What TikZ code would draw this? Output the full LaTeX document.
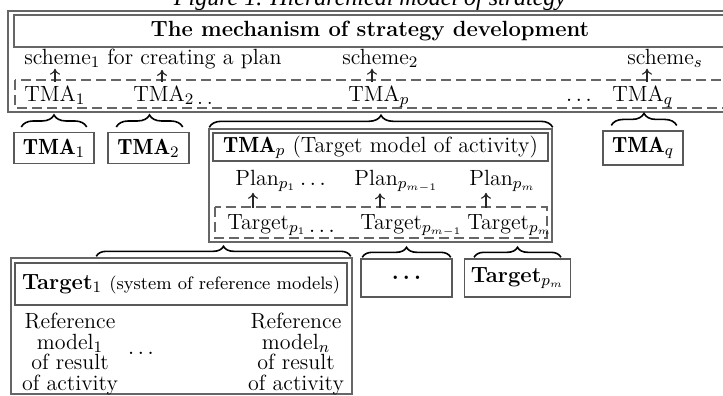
\documentclass[tikz,border=0pt]{standalone}
\usepackage{amsmath}
\usepackage{amssymb}
\usepackage{fontspec}
\newfontfamily\capfont{Liberation Serif}
\usetikzlibrary{decorations.pathreplacing,arrows.meta}

\newcommand{\dfont}{\fontsize{11}{13}\selectfont}

\tikzset{
  frame/.style={draw=black!60, line width=0.7pt},
  dashframe/.style={draw=black!60, line width=0.7pt, dash pattern=on 5pt off 2.5pt},
  boldbox/.style={draw=black!65, line width=0.7pt, inner sep=3pt, minimum height=15pt},
  lbl/.style={inner xsep=1pt, inner ysep=0.5pt},
  low/.style={inner xsep=1pt, inner ysep=1.5pt},
  link/.style={-{To[length=3pt,width=5pt]}, line width=0.55pt, black!85},
  upbrace/.style={decorate, decoration={brace, amplitude=6pt}, line width=0.8pt},
  lowbrace/.style={decorate, decoration={brace, amplitude=5pt}, line width=0.8pt}
}

\begin{document}
\begin{tikzpicture}[x=0.5pt, y=-0.5pt, font=\dfont]
\useasboundingbox (0,0) rectangle (723,396);
\clip (0,0) rectangle (723,396);

% caption, cut by the top edge
\node[font=\capfont\itshape\fontsize{12}{14}\selectfont, anchor=base, inner sep=0] (caption) at (370,5) {Figure 1. Hierarchical model of strategy};

% upper frame: the mechanism
\draw[frame] (8,11) rectangle (740,112);
\draw[frame] (14,15) rectangle (735,47);
\node[font=\dfont\bfseries] (mech) at (370,31) {The mechanism of strategy development};

% schemes
\node[lbl, anchor=base west] (sch1) at (22,64) {scheme$_1$};
\node[lbl, anchor=base west] (crplan) at (105,64) {for creating a plan};
\node[lbl, anchor=base west] (sch2) at (340,64) {scheme$_2$};
\node[lbl, anchor=base west] (schs) at (625,64) {scheme$_s$};

% row of TMA
\draw[dashframe] (15,80) rectangle (745,108);
\node[low, anchor=base west] (t1) at (22,101) {TMA$_1$};
\node[low, anchor=base west] (t2) at (131,101) {TMA$_2$};
\node[lbl, anchor=base west, inner xsep=0pt, yshift=-1.5pt] (t2dots) at (t2.base east) {.\,.};
\node[low, anchor=base west] (tp) at (346,101) {TMA$_p$};
\node[low, anchor=base] (tdots) at (579,101) {$\ldots$};
\node[low, anchor=base west] (tq) at (610,101) {TMA$_q$};

\draw[link] ([xshift=16.5pt]t1.north west) -- ([xshift=16.5pt]sch1.south west);
\draw[link] ([xshift=15.5pt]t2.north west) -- ([xshift=28.5pt]crplan.south west);
\draw[link] ([xshift=13pt]tp.north west) -- ([xshift=16pt]sch2.south west);
\draw[link] ([xshift=18.5pt]tq.north west) -- ([xshift=11pt]schs.south west);

% TMA boxes
\node[boldbox, minimum width=40pt] (b1) at (54,148) {$\mathbf{TMA}_1$};
\node[boldbox, minimum width=40.5pt] (b2) at (148.5,148) {$\mathbf{TMA}_2$};
\node[boldbox, minimum width=40pt] (bq) at (643,148) {$\mathbf{TMA}_q$};
\node[frame, minimum width=171.5pt, minimum height=56.5pt, inner sep=0] (pout) at (380.5,185.5) {};
\node[boldbox, minimum width=167.5pt, minimum height=14pt, inner sep=1pt] (ptitle) at (380.5,147) {$\mathbf{TMA}_p$ (Target model of activity)};

\draw[upbrace] ([xshift=4pt,yshift=2.5pt]b1.north west) -- ([xshift=-4pt,yshift=2.5pt]b1.north east);
\draw[upbrace] ([xshift=4.5pt,yshift=2.5pt]b2.north west) -- ([xshift=-3.5pt,yshift=2.5pt]b2.north east);
\draw[upbrace] ([xshift=0.5pt,yshift=0.5pt]pout.north west) -- ([yshift=0.5pt]pout.north east);
\draw[upbrace] ([xshift=4.5pt,yshift=2.5pt]bq.north west) -- ([xshift=-3.5pt,yshift=2.5pt]bq.north east);

% plans and targets inside TMA_p
\node[lbl, anchor=base west] (pl1) at (233,185) {Plan$_{p_1}$};
\node[lbl, anchor=base] (pldots) at (313,185) {$\ldots$};
\node[lbl, anchor=base west] (plm1) at (352,185) {Plan$_{p_{m-1}}$};
\node[lbl, anchor=base west] (plm) at (467,185) {Plan$_{p_m}$};

\draw[dashframe] (215,207) rectangle (547,238);
\node[low, anchor=base west, inner ysep=3pt] (tg1) at (225,229) {Target$_{p_1}$};
\node[lbl, anchor=base west, inner xsep=0pt, yshift=-1.5pt] (tg1dots) at (tg1.base east) {$\ldots$};
\node[low, anchor=base west, inner ysep=3pt] (tgm1) at (358,229) {Target$_{p_{m-1}}$};
\node[low, anchor=base west, inner ysep=3pt] (tgm) at (465,229) {Target$_{p_m}$};

\draw[link] ([xshift=14pt]tg1.north west) -- ([xshift=10pt]pl1.south west);
\draw[link] ([xshift=11pt]tgm1.north west) -- ([xshift=14pt]plm1.south west);
\draw[link] ([xshift=10.5pt]tgm.north west) -- ([xshift=9.5pt]plm.south west);

% targets
\node[frame, minimum width=170.5pt, minimum height=68pt, inner sep=0] (tgout) at (181.5,326) {};
\node[boldbox, minimum width=166pt, minimum height=21pt, inner sep=1pt] (tgtitle) at (181,284) {\textbf{Target}$_1$ {\fontsize{9}{11}\selectfont(system of reference models)}};
\node[align=center, inner sep=1pt, font=\fontsize{11}{10.2}\selectfont] (ref1) at (70,354) {Reference\\model$_1$\\of result\\of activity};
\node[inner sep=1pt] (refdots) at (141,353) {$\ldots$};
\node[align=center, inner sep=1pt, font=\fontsize{11}{10.2}\selectfont] (refn) at (296,354) {Reference\\model$_n$\\of result\\of activity};
\node[boldbox, minimum width=45.5pt, minimum height=19pt] (dbox) at (406.5,278) {$\boldsymbol{\ldots}$};
\node[boldbox, minimum width=52.5pt, minimum height=19pt] (tpm) at (517.5,278) {\textbf{Target}$_{p_m}$};

\draw[lowbrace] ([xshift=43pt,yshift=0.5pt]tgout.north west) -- ([xshift=-1pt,yshift=0.5pt]tgout.north east);
\draw[lowbrace] ([xshift=1pt,yshift=0.5pt]dbox.north west) -- ([xshift=-1pt,yshift=0.5pt]dbox.north east);
\draw[lowbrace] ([xshift=5pt,yshift=0.5pt]tpm.north west) -- ([xshift=-5pt,yshift=0.5pt]tpm.north east);
\end{tikzpicture}
\end{document}
